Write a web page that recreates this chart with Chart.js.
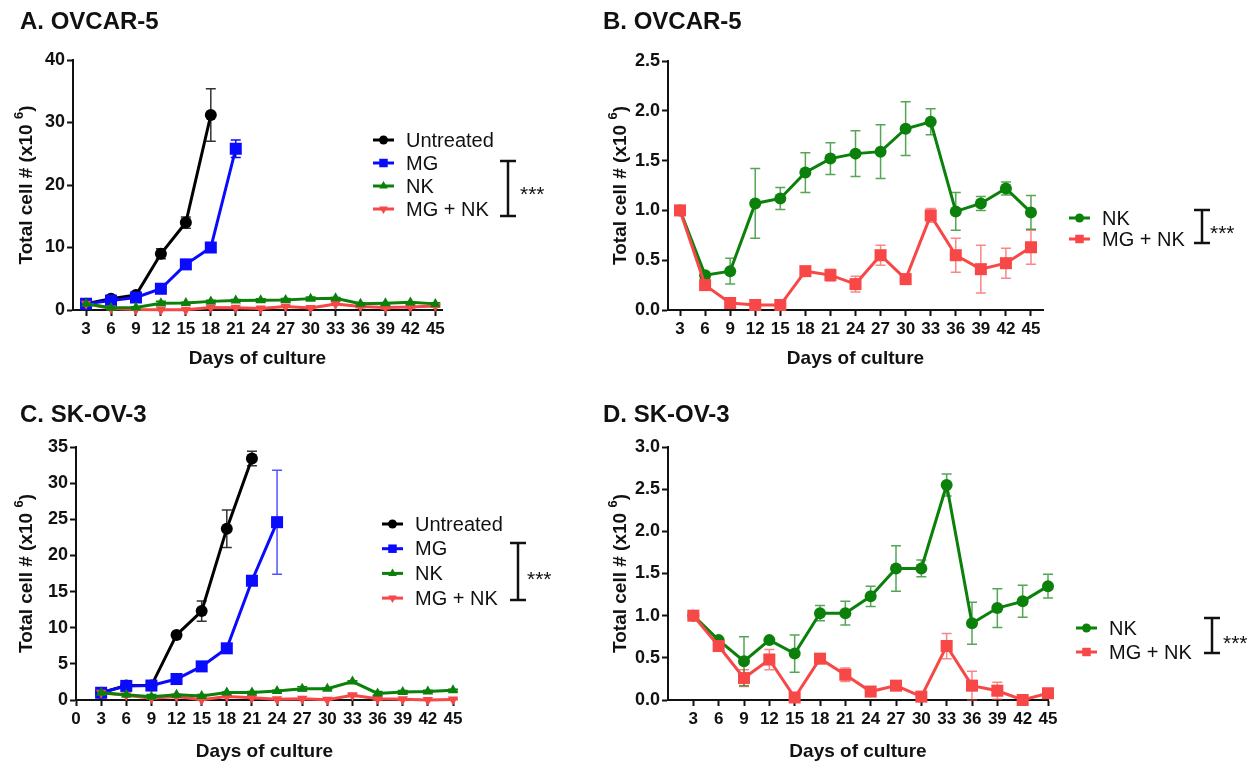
<!DOCTYPE html>
<html>
<head>
<meta charset="utf-8">
<title>Total cell number over days of culture</title>
<script src="https://cdn.jsdelivr.net/npm/chart.js@4.4.1/dist/chart.umd.min.js"></script>
<style>
  body { margin: 0; background: #fff; width: 1250px; height: 761px; position: relative; overflow: hidden; }
  canvas { position: absolute; }
</style>
</head>
<body>
<canvas id="panelA" width="600" height="385" style="left:0;top:0"></canvas>
<canvas id="panelB" width="650" height="385" style="left:600px;top:0"></canvas>
<canvas id="panelC" width="600" height="376" style="left:0;top:385px"></canvas>
<canvas id="panelD" width="650" height="376" style="left:600px;top:385px"></canvas>

<script>
// days of culture (x categories)
const days = [3, 6, 9, 12, 15, 18, 21, 24, 27, 30, 33, 36, 39, 42, 45];
const dayTicks = [3, 6, 9, 12, 15, 18, 21, 24, 27, 30, 33, 36, 39, 42, 45];
const dayTicksFromZero = [0, 3, 6, 9, 12, 15, 18, 21, 24, 27, 30, 33, 36, 39, 42, 45];

// y tick labels
const ovcarBigTicks = [0, 10, 20, 30, 40];
const ovcarSmallTicks = [0, 0.5, 1.0, 1.5, 2.0, 2.5];
const skovBigTicks = [0, 5, 10, 15, 20, 25, 30, 35];
const skovSmallTicks = [0, 0.5, 1.0, 1.5, 2.0, 2.5, 3.0];

// OVCAR-5 cell counts (x10^6), mean and SD
const ovUntreated = [1.0, 1.8, 2.4, 9.0, 14.0, 31.2];
const ovUntreatedSd = [0, 0, 0, 0.8, 0.9, 4.2];
const ovMG = [1.0, 1.5, 2.0, 3.4, 7.3, 10.0, 25.8];
const ovMGSd = [0, 0, 0, 0, 0, 0, 1.4];
const ovNK = [1.0, 0.35, 0.39, 1.07, 1.12, 1.38, 1.52, 1.57, 1.59, 1.82, 1.89, 0.99, 1.07, 1.22, 0.98];
const ovNKSd = [0, 0.03, 0.13, 0.35, 0.11, 0.2, 0.16, 0.23, 0.27, 0.27, 0.13, 0.19, 0.07, 0.065, 0.17];
const ovMGNK = [1.0, 0.25, 0.07, 0.05, 0.05, 0.39, 0.35, 0.26, 0.55, 0.31, 0.95, 0.55, 0.41, 0.47, 0.63];
const ovMGNKSd = [0, 0.03, 0.02, 0, 0, 0.02, 0.06, 0.08, 0.1, 0.05, 0.07, 0.17, 0.24, 0.15, 0.17];

// SK-OV-3 cell counts (x10^6), mean and SD
const skUntreated = [1.0, 2.0, 2.0, 9.0, 12.3, 23.7, 33.4];
const skUntreatedSd = [0, 0, 0, 0, 1.4, 2.6, 1.0];
const skMG = [1.0, 1.95, 2.0, 2.9, 4.65, 7.15, 16.5, 24.6];
const skMGSd = [0, 0, 0, 0, 0, 0, 0, 7.2];
const skNK = [1.0, 0.71, 0.46, 0.71, 0.55, 1.03, 1.03, 1.23, 1.56, 1.56, 2.55, 0.91, 1.09, 1.17, 1.35];
const skNKSd = [0, 0.02, 0.29, 0.02, 0.22, 0.09, 0.14, 0.12, 0.27, 0.1, 0.13, 0.25, 0.23, 0.19, 0.14];
const skMGNK = [1.0, 0.64, 0.26, 0.48, 0.03, 0.49, 0.30, 0.10, 0.17, 0.04, 0.64, 0.17, 0.11, 0.0, 0.08];
const skMGNKSd = [0, 0.02, 0.1, 0.12, 0.01, 0.03, 0.08, 0.01, 0.01, 0.01, 0.15, 0.17, 0.1, 0, 0.05];

const FONT = '"Liberation Sans", Arial, Helvetica, sans-serif';
const BLACK = '#000000';
const BLUE = '#0a0aff';
const GREEN = '#0b800b';
const RED = '#f74747';

// one line series with its SD array attached for the error bar plugin
function series(label, values, sd, color, style, rotation, radius, errColor) {
    return {
        label: label,
        data: values.map((v, i) => ({ x: days[i], y: v })),
        sd: sd,
        errColor: errColor || color,
        borderColor: color,
        backgroundColor: color,
        borderWidth: 3,
        pointStyle: style,
        pointRotation: rotation || 0,
        pointRadius: radius,
        pointHoverRadius: radius,
        pointBorderWidth: 0,
        tension: 0,
        clip: false
    };
}

// vertical SD bars with caps, drawn under the lines
const errorBars = {
    id: 'errorBars',
    beforeDatasetsDraw(chart) {
        const ctx = chart.ctx;
        const xs = chart.scales.x;
        const ys = chart.scales.y;
        chart.data.datasets.forEach(ds => {
            if (!ds.sd) return;
            ctx.save();
            ctx.strokeStyle = ds.errColor;
            ctx.lineWidth = 1.5;
            ds.data.forEach((pt, i) => {
                const e = ds.sd[i];
                if (!e) return;
                const px = xs.getPixelForValue(pt.x);
                const top = ys.getPixelForValue(pt.y + e);
                const bot = ys.getPixelForValue(Math.max(pt.y - e, 0));
                ctx.beginPath();
                ctx.moveTo(px, top);
                ctx.lineTo(px, bot);
                ctx.moveTo(px - 5, top);
                ctx.lineTo(px + 5, top);
                ctx.moveTo(px - 5, bot);
                ctx.lineTo(px + 5, bot);
                ctx.stroke();
            });
            ctx.restore();
        });
    }
};

// panel title, axis titles, legend and significance bracket
const panelDecor = {
    id: 'panelDecor',
    afterDraw(chart, args, o) {
        const ctx = chart.ctx;
        const area = chart.chartArea;
        ctx.save();
        ctx.fillStyle = '#111';
        ctx.textBaseline = 'middle';

        ctx.font = 'bold 24px ' + FONT;
        ctx.textAlign = 'left';
        ctx.fillText(o.title, o.titleX, o.titleY);

        ctx.font = 'bold 19px ' + FONT;
        ctx.textAlign = 'center';
        ctx.fillText('Days of culture', (area.left + area.right) / 2, o.xTitleY);

        // y title, rotated, with a superscript 6
        ctx.save();
        ctx.translate(o.yTitleX, (area.top + area.bottom) / 2);
        ctx.rotate(-Math.PI / 2);
        ctx.textAlign = 'left';
        const main = 'Total cell # (x10 ';
        ctx.font = 'bold 19px ' + FONT;
        const wMain = ctx.measureText(main).width;
        const wClose = ctx.measureText(')').width;
        ctx.font = 'bold 13px ' + FONT;
        const wSup = ctx.measureText('6').width;
        let x0 = -(wMain + wSup + wClose) / 2;
        ctx.font = 'bold 19px ' + FONT;
        ctx.fillText(main, x0, 0);
        ctx.font = 'bold 13px ' + FONT;
        ctx.fillText('6', x0 + wMain, -8);
        ctx.font = 'bold 19px ' + FONT;
        ctx.fillText(')', x0 + wMain + wSup, 0);
        ctx.restore();

        // legend rows: short line with the marker in the middle
        ctx.font = '20px ' + FONT;
        ctx.textAlign = 'left';
        o.legend.forEach((item, i) => {
            const y = o.legendY + i * o.legendGap;
            ctx.strokeStyle = item.color;
            ctx.fillStyle = item.color;
            ctx.lineWidth = 3;
            ctx.beginPath();
            ctx.moveTo(o.legendX, y);
            ctx.lineTo(o.legendX + 21, y);
            ctx.stroke();
            Chart.helpers.drawPoint(ctx, {
                pointStyle: item.style,
                rotation: item.rotation || 0,
                radius: item.radius,
                borderWidth: 0
            }, o.legendX + 10.5, y);
            ctx.fillStyle = '#111';
            ctx.fillText(item.label, o.legendX + 33, y + 1);
        });

        // bracket with ***
        const b = o.bracket;
        ctx.strokeStyle = '#111';
        ctx.lineWidth = 2.5;
        ctx.beginPath();
        ctx.moveTo(b.x, b.y1);
        ctx.lineTo(b.x, b.y2);
        ctx.moveTo(b.x - 8, b.y1);
        ctx.lineTo(b.x + 8, b.y1);
        ctx.moveTo(b.x - 8, b.y2);
        ctx.lineTo(b.x + 8, b.y2);
        ctx.stroke();
        ctx.fillStyle = '#111';
        ctx.font = '21px ' + FONT;
        ctx.textBaseline = 'alphabetic';
        ctx.fillText('***', b.starsX, b.starsY + 11);
        ctx.restore();
    }
};

function axisStyle() {
    return {
        grid: { display: true, drawOnChartArea: false, drawTicks: true, tickLength: 6, tickWidth: 2, tickColor: '#111' },
        border: { display: true, color: '#111', width: 2 }
    };
}

function makePanel(id, p) {
    const ctx = document.getElementById(id).getContext('2d');
    return new Chart(ctx, {
        type: 'line',
        data: { datasets: p.datasets },
        plugins: [errorBars, panelDecor],
        options: {
            responsive: false,
            animation: false,
            events: [],
            layout: { padding: { left: 0, top: p.area.top, right: p.canvasW - p.area.right, bottom: 0 } },
            plugins: {
                legend: { display: false },
                tooltip: { enabled: false },
                panelDecor: p.decor
            },
            scales: {
                x: Object.assign(axisStyle(), {
                    type: 'linear',
                    min: p.xMin,
                    max: p.xMax,
                    afterBuildTicks: s => { s.ticks = p.xTicks.map(v => ({ value: v })); },
                    afterFit: s => { s.height = p.canvasH - p.area.bottom; },
                    ticks: {
                        autoSkip: false, maxRotation: 0, padding: 3, color: '#111',
                        font: { family: FONT, size: 17, weight: 'bold' },
                        callback: v => String(v)
                    }
                }),
                y: Object.assign(axisStyle(), {
                    type: 'linear',
                    min: p.yTicks[0],
                    max: p.yTicks[p.yTicks.length - 1],
                    afterBuildTicks: s => { s.ticks = p.yTicks.map(v => ({ value: v })); },
                    afterFit: s => { s.width = p.area.left; },
                    ticks: {
                        padding: 2, color: '#111',
                        font: { family: FONT, size: 18, weight: 'bold' },
                        callback: p.yFormat
                    }
                })
            }
        }
    });
}

document.addEventListener('DOMContentLoaded', function() {
    const wholeNum = v => String(v);
    const oneDecimal = v => v.toFixed(1);

    const fourLegend = [
        { label: 'Untreated', color: BLACK, style: 'circle', radius: 4.5 },
        { label: 'MG', color: BLUE, style: 'rect', radius: 6 },
        { label: 'NK', color: GREEN, style: 'triangle', radius: 5 },
        { label: 'MG + NK', color: RED, style: 'triangle', rotation: 180, radius: 5 }
    ];
    const twoLegend = [
        { label: 'NK', color: GREEN, style: 'circle', radius: 4.5 },
        { label: 'MG + NK', color: RED, style: 'rect', radius: 6 }
    ];

    makePanel('panelA', {
        canvasW: 600, canvasH: 385,
        area: { left: 73, top: 60, right: 442, bottom: 310 },
        xMin: 1.43, xMax: 45.8, xTicks: dayTicks,
        yTicks: ovcarBigTicks, yFormat: wholeNum,
        datasets: [
            series('NK', ovNK, ovNKSd, GREEN, 'triangle', 0, 6),
            series('MG + NK', ovMGNK, ovMGNKSd, RED, 'triangle', 180, 6),
            series('MG', ovMG, ovMGSd, BLUE, 'rect', 0, 8.5),
            series('Untreated', ovUntreated, ovUntreatedSd, BLACK, 'circle', 0, 6, '#333')
        ],
        decor: {
            title: 'A. OVCAR-5', titleX: 20, titleY: 22,
            xTitleY: 359, yTitleX: 27,
            legend: fourLegend, legendX: 373, legendY: 140, legendGap: 23,
            bracket: { x: 508, y1: 161, y2: 216, starsX: 520, starsY: 190 }
        }
    });

    makePanel('panelB', {
        canvasW: 650, canvasH: 385,
        area: { left: 68, top: 61, right: 443, bottom: 310 },
        xMin: 1.56, xMax: 46.44, xTicks: dayTicks,
        yTicks: ovcarSmallTicks, yFormat: oneDecimal,
        datasets: [
            series('MG + NK', ovMGNK, ovMGNKSd, RED, 'rect', 0, 8.5, 'rgba(247,71,71,0.65)'),
            series('NK', ovNK, ovNKSd, GREEN, 'circle', 0, 6, 'rgba(11,128,11,0.7)')
        ],
        decor: {
            title: 'B. OVCAR-5', titleX: 3, titleY: 22,
            xTitleY: 359, yTitleX: 21,
            legend: twoLegend, legendX: 469, legendY: 218, legendGap: 21,
            bracket: { x: 602, y1: 210, y2: 243, starsX: 610, starsY: 229 }
        }
    });

    makePanel('panelC', {
        canvasW: 600, canvasH: 376,
        area: { left: 76, top: 62, right: 453, bottom: 315 },
        xMin: 0, xMax: 45, xTicks: dayTicksFromZero,
        yTicks: skovBigTicks, yFormat: wholeNum,
        datasets: [
            series('NK', skNK, skNKSd, GREEN, 'triangle', 0, 6),
            series('MG + NK', skMGNK, skMGNKSd, RED, 'triangle', 180, 6),
            series('MG', skMG, skMGSd, BLUE, 'rect', 0, 8.5, 'rgba(10,10,255,0.7)'),
            series('Untreated', skUntreated, skUntreatedSd, BLACK, 'circle', 0, 6, '#333')
        ],
        decor: {
            title: 'C. SK-OV-3', titleX: 20, titleY: 30,
            xTitleY: 367, yTitleX: 27,
            legend: fourLegend, legendX: 382, legendY: 139, legendGap: 24.7,
            bracket: { x: 518, y1: 158, y2: 215, starsX: 527, starsY: 190 }
        }
    });

    makePanel('panelD', {
        canvasW: 650, canvasH: 376,
        area: { left: 68, top: 62, right: 448, bottom: 315 },
        xMin: 0, xMax: 45, xTicks: dayTicks,
        yTicks: skovSmallTicks, yFormat: oneDecimal,
        datasets: [
            series('MG + NK', skMGNK, skMGNKSd, RED, 'rect', 0, 8.5, 'rgba(247,71,71,0.65)'),
            series('NK', skNK, skNKSd, GREEN, 'circle', 0, 6, 'rgba(11,128,11,0.7)')
        ],
        decor: {
            title: 'D. SK-OV-3', titleX: 3, titleY: 30,
            xTitleY: 367, yTitleX: 21,
            legend: twoLegend, legendX: 476, legendY: 243, legendGap: 24,
            bracket: { x: 612, y1: 233, y2: 268, starsX: 623, starsY: 254 }
        }
    });
});
</script>
</body>
</html>
